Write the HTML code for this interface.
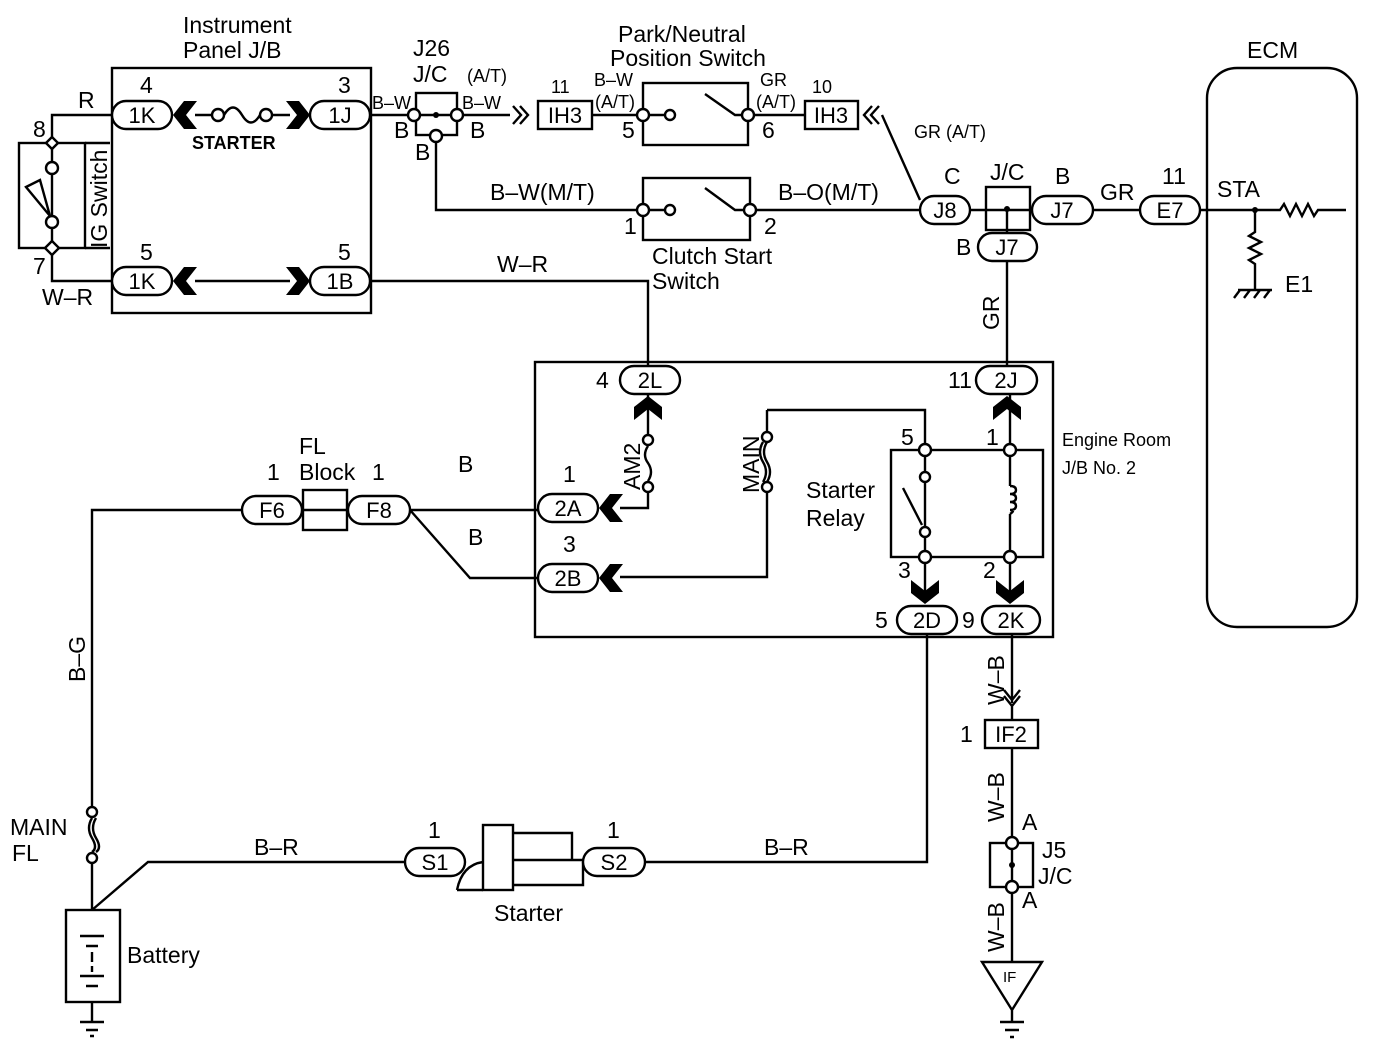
<!DOCTYPE html>
<html><head><meta charset="utf-8"><style>
html,body{margin:0;padding:0;background:#fff}
svg{display:block}
text{font-family:"Liberation Sans",Arial,sans-serif;fill:#000}
</style></head><body>
<svg width="1392" height="1048" viewBox="0 0 1392 1048" xmlns="http://www.w3.org/2000/svg">
<defs>
<g id="chL"><path d="M0,0 L11,-14 L24,-14 L13,0 L24,14 L11,14 Z" fill="#000"/></g>
</defs>
<g fill="none" stroke="#000" stroke-width="2.4">
<!-- IP J/B -->
<rect x="112" y="68" width="259" height="245"/>
<rect x="112" y="101" width="60" height="28" rx="14" fill="#fff"/>
<rect x="310" y="101" width="60" height="28" rx="14" fill="#fff"/>
<rect x="112" y="267" width="60" height="28" rx="14" fill="#fff"/>
<rect x="310" y="267" width="60" height="28" rx="14" fill="#fff"/>
<path d="M195,115 H212 M224,115 Q233,100 242,115 Q251,130 260,115 M272,115 H290"/>
<circle cx="218" cy="115" r="6" fill="#fff"/><circle cx="266" cy="115" r="6" fill="#fff"/>
<path d="M195,281 H290"/>
<!-- IG switch -->
<rect x="19" y="143" width="66" height="105"/>
<path d="M112,115 H52 V143 M52,143 V162 M52,174 V216 M52,228 V248 M52,248 V281 H112 M85,143 H110 M85,248 H110"/>
<circle cx="52" cy="168" r="6" fill="#fff"/><circle cx="52" cy="222" r="6" fill="#fff"/>
<path d="M26,187 L40,180 L50,216 Z" fill="#fff"/>
<path d="M52,137 l6,6 l-6,6 l-6,-6 z M52,241 l7,7 l-7,7 l-7,-7 z" fill="#fff"/>
<!-- J26 -->
<path d="M370,115 H408 M420,115 H451 M463,115 H510"/>
<rect x="416" y="93" width="41" height="42"/>
<circle cx="414" cy="115" r="6" fill="#fff"/><circle cx="457" cy="115" r="6" fill="#fff"/><circle cx="436" cy="136" r="6" fill="#fff"/>
<path d="M436,142 V210 H637"/>
<path d="M513,106 L521,115 L513,124 M520,106 L528,115 L520,124"/>
<rect x="538" y="101" width="54" height="28"/>
<path d="M592,115 H637"/>
<!-- Park neutral -->
<rect x="643" y="83" width="105" height="62"/>
<circle cx="643" cy="115" r="6" fill="#fff"/><circle cx="748" cy="115" r="6" fill="#fff"/>
<circle cx="670" cy="115" r="5" fill="#fff"/><path d="M649,115 H665 M705,94 L735,115 H742"/>
<path d="M754,115 H805"/>
<rect x="805" y="101" width="53" height="28"/>
<path d="M872,106 L864,115 L872,124 M879,106 L871,115 L879,124 M882,115 L920,200"/>
<!-- clutch -->
<rect x="643" y="178" width="107" height="62"/>
<circle cx="643" cy="210" r="6" fill="#fff"/><circle cx="750" cy="210" r="6" fill="#fff"/>
<circle cx="670" cy="210" r="5" fill="#fff"/><path d="M649,210 H665 M705,188 L735,210 H744"/>
<path d="M756,210 H920"/>
<!-- J/C J8 J7 -->
<rect x="920" y="196" width="50" height="28" rx="14" fill="#fff"/>
<rect x="986" y="187" width="44" height="43"/>
<path d="M970,210 H1032 M1007,209 V233"/>
<rect x="1032" y="196" width="61" height="28" rx="14" fill="#fff"/>
<rect x="978" y="233" width="59" height="28" rx="14" fill="#fff"/>
<path d="M1093,210 H1140"/>
<rect x="1140" y="196" width="60" height="28" rx="14" fill="#fff"/>
<path d="M1200,210 H1280 L1284,204 L1290,216 L1296,204 L1302,216 L1308,204 L1314,216 L1318,210 H1346"/>
<path d="M1255,210 V232 L1249,236 L1261,242 L1249,248 L1261,254 L1249,260 L1255,264 V290 M1238,290 H1272 M1240,290 l-6,8 M1250,290 l-6,8 M1260,290 l-6,8 M1270,290 l-6,8"/>
<rect x="1207" y="68" width="150" height="559" rx="30"/>
<path d="M1007,261 V366 M370,281 H648 V366"/>
<!-- engine room -->
<rect x="535" y="362" width="518" height="275"/>
<rect x="620" y="366" width="60" height="28" rx="14" fill="#fff"/>
<rect x="976" y="366" width="61" height="28" rx="14" fill="#fff"/>
<rect x="538" y="494" width="60" height="28" rx="14" fill="#fff"/>
<rect x="538" y="564" width="60" height="28" rx="14" fill="#fff"/>
<rect x="897" y="606" width="60" height="28" rx="14" fill="#fff"/>
<rect x="982" y="606" width="58" height="28" rx="14" fill="#fff"/>
<path d="M648,394 V434 M648,446 Q642,455 648,463 Q654,472 648,481 M648,493 V508 H620"/>
<circle cx="648" cy="440" r="5" fill="#fff"/><circle cx="648" cy="487" r="5" fill="#fff"/>
<path d="M767,410 V432 M767,442 Q761,452 767,462 Q773,472 767,482 M763,442 Q757,452 763,462 Q769,472 763,482 M767,492 V577 H620 M767,410 H925 V444"/>
<circle cx="767" cy="437" r="5" fill="#fff"/><circle cx="767" cy="487" r="5" fill="#fff"/>
<rect x="891" y="450" width="152" height="107"/>
<path d="M925,456 V471 M925,483 V527 M903,488 L922,525 M925,537 V600 M1010,394 V444 M1010,456 V486 M1010,514 V551 M1010,563 V600"/>
<circle cx="925" cy="450" r="6" fill="#fff"/><circle cx="925" cy="477" r="5" fill="#fff"/><circle cx="925" cy="532" r="5" fill="#fff"/><circle cx="925" cy="557" r="6" fill="#fff"/>
<circle cx="1010" cy="450" r="6" fill="#fff"/><circle cx="1010" cy="557" r="6" fill="#fff"/>
<path d="M1010,486 q6,0 6,4 q0,4 -6,4 q6,0 6,4 q0,4 -6,4 q6,0 6,4 q0,4 -6,4 q6,0 0,4"/>
<!-- left -->
<rect x="242" y="496" width="60" height="28" rx="14" fill="#fff"/>
<rect x="303" y="490" width="44" height="40"/><path d="M303,510 H347"/>
<rect x="348" y="496" width="62" height="28" rx="14" fill="#fff"/>
<path d="M410,510 H538 M410,510 L470,578 H538 M242,510 H92 V806 M92,818 Q86,828 92,838 Q98,848 92,852 M96,818 Q90,828 96,838 Q102,848 96,852 M92,864 V910 M92,910 L148,862 H405"/>
<circle cx="92" cy="812" r="5" fill="#fff"/><circle cx="92" cy="858" r="5" fill="#fff"/>
<rect x="66" y="910" width="54" height="92"/>
<path d="M80,936 H104 M86,946 H98 M92,952 V962 M92,966 V972 M80,976 H104 M86,986 H98 M92,1002 V1022 M80,1022 H104 M86,1030 H98 M90,1036 H94"/>
<rect x="405" y="848" width="60" height="28" rx="14" fill="#fff"/>
<path d="M457,890 Q462,865 483,862"/>
<rect x="483" y="825" width="30" height="65"/>
<path d="M513,833 H572 V860 M513,860 H583 M513,885 H583 V862 M457,890 H483"/>
<rect x="583" y="848" width="62" height="28" rx="14" fill="#fff"/>
<path d="M645,862 H927 V634"/>
<!-- right bottom -->
<path d="M1012,634 V703 M1004,690 L1012,700 L1020,690 M1004,696 L1012,706 L1020,696 M1012,706 V720"/>
<rect x="985" y="720" width="53" height="28"/>
<path d="M1012,748 V837"/>
<rect x="990" y="843" width="43" height="44"/>
<circle cx="1012" cy="843" r="6" fill="#fff"/><circle cx="1012" cy="887" r="6" fill="#fff"/>
<path d="M1012,849 V881 M1012,893 V962 M982,962 H1042 L1012,1010 Z M1012,1010 V1022 M1000,1022 H1024 M1005,1030 H1019 M1010,1037 H1014"/>
</g>
<circle cx="436" cy="115" r="3"/><circle cx="1007" cy="209" r="3"/><circle cx="1255" cy="210" r="3"/><circle cx="1012" cy="865" r="3"/>
<!-- chevrons -->
<use href="#chL" transform="translate(173,115)"/>
<use href="#chL" transform="translate(310,115) scale(-1,1)"/>
<use href="#chL" transform="translate(173,281)"/>
<use href="#chL" transform="translate(310,281) scale(-1,1)"/>
<use href="#chL" transform="translate(599,508)"/>
<use href="#chL" transform="translate(599,578)"/>
<use href="#chL" transform="translate(648,396) rotate(90)"/>
<use href="#chL" transform="translate(1007,396) rotate(90)"/>
<use href="#chL" transform="translate(925,604) rotate(-90)"/>
<use href="#chL" transform="translate(1010,604) rotate(-90)"/>
<g font-size="23">
<text x="183" y="33">Instrument</text><text x="183" y="58">Panel J/B</text>
<text x="140" y="93">4</text><text x="338" y="93">3</text>
<text x="140" y="260">5</text><text x="338" y="260">5</text>
<text x="78" y="108">R</text><text x="33" y="137">8</text><text x="33" y="274">7</text><text x="42" y="305">W–R</text>
<text x="413" y="56">J26</text><text x="413" y="82">J/C</text>
<text x="394" y="138">B</text><text x="470" y="138">B</text><text x="415" y="160">B</text>
<text x="618" y="42">Park/Neutral</text><text x="610" y="66">Position Switch</text>
<text x="622" y="138">5</text><text x="762" y="138">6</text>
<text x="490" y="200">B–W(M/T)</text><text x="778" y="200">B–O(M/T)</text>
<text x="624" y="234">1</text><text x="764" y="234">2</text>
<text x="652" y="264">Clutch Start</text><text x="652" y="289">Switch</text>
<text x="497" y="272">W–R</text>
<text x="944" y="184">C</text><text x="990" y="180">J/C</text><text x="1055" y="184">B</text><text x="956" y="255">B</text>
<text x="1100" y="200">GR</text><text x="1162" y="184">11</text><text x="1217" y="197">STA</text>
<text x="1247" y="58">ECM</text><text x="1285" y="292">E1</text>
<text x="596" y="388">4</text><text x="948" y="388">11</text>
<text x="563" y="482">1</text><text x="563" y="552">3</text>
<text x="806" y="498">Starter</text><text x="806" y="526">Relay</text>
<text x="901" y="445">5</text><text x="986" y="445">1</text><text x="898" y="578">3</text><text x="983" y="578">2</text>
<text x="875" y="628">5</text><text x="962" y="628">9</text>
<text x="299" y="454">FL</text><text x="299" y="480">Block</text>
<text x="267" y="480">1</text><text x="372" y="480">1</text>
<text x="458" y="472">B</text><text x="468" y="545">B</text>
<text x="10" y="835">MAIN</text><text x="12" y="861">FL</text>
<text x="127" y="963">Battery</text>
<text x="254" y="855">B–R</text><text x="764" y="855">B–R</text>
<text x="428" y="838">1</text><text x="607" y="838">1</text>
<text x="494" y="921">Starter</text>
<text x="960" y="742">1</text><text x="1022" y="830">A</text><text x="1022" y="908">A</text>
<text x="1042" y="858">J5</text><text x="1038" y="884">J/C</text>
</g>
<g font-size="22" text-anchor="middle">
<text x="142" y="123">1K</text><text x="340" y="123">1J</text>
<text x="142" y="289">1K</text><text x="340" y="289">1B</text>
<text x="565" y="123">IH3</text><text x="831" y="123">IH3</text>
<text x="945" y="218">J8</text><text x="1062" y="218">J7</text><text x="1007" y="255">J7</text><text x="1170" y="218">E7</text>
<text x="650" y="388">2L</text><text x="1006" y="388">2J</text>
<text x="568" y="516">2A</text><text x="568" y="586">2B</text>
<text x="927" y="628">2D</text><text x="1011" y="628">2K</text>
<text x="272" y="518">F6</text><text x="379" y="518">F8</text>
<text x="435" y="870">S1</text><text x="614" y="870">S2</text>
<text x="1011" y="742">IF2</text>
</g>
<g font-size="18">
<text x="192" y="149" font-weight="bold">STARTER</text>
<text x="467" y="82">(A/T)</text>
<text x="372" y="109">B–W</text><text x="462" y="109">B–W</text>
<text x="594" y="86">B–W</text><text x="595" y="108">(A/T)</text>
<text x="760" y="86">GR</text><text x="756" y="108">(A/T)</text>
<text x="812" y="93">10</text><text x="551" y="93">11</text>
<text x="914" y="138">GR (A/T)</text>
<text x="1062" y="446">Engine Room</text><text x="1062" y="474">J/B No. 2</text>
<text x="1003" y="982" font-size="15">IF</text>
</g>
<g font-size="23">
<text transform="translate(107,248) rotate(-90)">IG Switch</text>
<text transform="translate(640,490) rotate(-90)">AM2</text>
<text transform="translate(759,493) rotate(-90)">MAIN</text>
<text transform="translate(85,682) rotate(-90)">B–G</text>
<text transform="translate(999,330) rotate(-90)">GR</text>
<text transform="translate(1004,705) rotate(-90)">W–B</text>
<text transform="translate(1004,822) rotate(-90)">W–B</text>
<text transform="translate(1004,952) rotate(-90)">W–B</text>
</g>
</svg>
</body></html>
